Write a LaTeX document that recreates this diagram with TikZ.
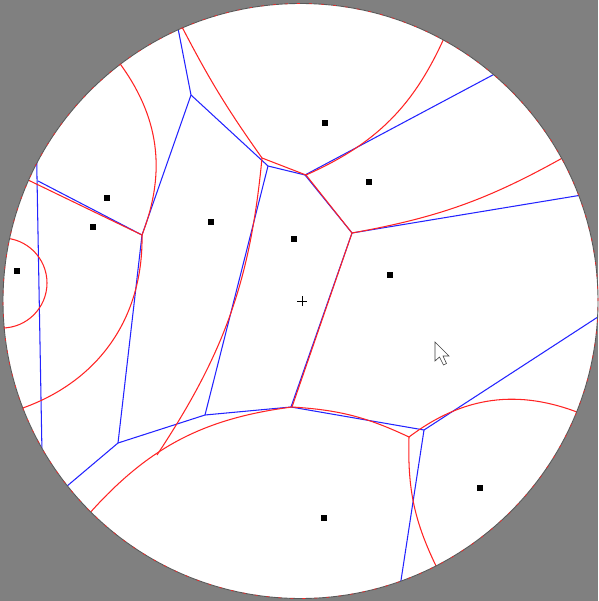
\documentclass[tikz,border=0pt]{standalone}
\definecolor{bg}{RGB}{128,128,128}
\definecolor{vred}{RGB}{255,35,35}
\definecolor{vblue}{RGB}{35,35,255}
\begin{document}
\begin{tikzpicture}[x=1pt,y=-1pt,
  redl/.style={vred, line width=1.05pt, line join=round},
  bluel/.style={vblue, line width=1.05pt, line join=round},
  site/.style={fill=black, minimum size=6pt, inner sep=0pt, draw=none}]
\fill[bg] (0,0) rectangle (598,601);
\useasboundingbox (0,0) rectangle (598,601);
\coordinate (O) at (300.5,301);
\fill[white] (O) circle (297.5pt);

\begin{scope}
\clip (O) circle (297.5pt);
% blue Voronoi vertices
\coordinate (b1) at (191,95);
\coordinate (b2) at (142,235);
\coordinate (b3) at (268,166);
\coordinate (b4) at (305,175);
\coordinate (b5) at (352,233);
\coordinate (b6) at (38,181);
\coordinate (b7) at (118,443);
\coordinate (b8) at (205,415);
\coordinate (b9) at (291,407);
\coordinate (b10) at (424,430);
% blue free ends (on / beyond the boundary)
\coordinate (e1) at (176,18);
\coordinate (e2) at (504,69);
\coordinate (e3) at (36.5,150);
\coordinate (e4) at (42.3,470);
\coordinate (e5) at (60,492);
\coordinate (e6) at (604,313);
\coordinate (e7) at (398,600);
\coordinate (e8) at (600,192);

\draw[bluel] (b1) -- (e1);
\draw[bluel] (b1) -- (b2);
\draw[bluel] (b1) -- (b3);
\draw[bluel] (b3) -- (b4);
\draw[bluel] (b4) -- (e2);
\draw[bluel] (b4) -- (b5);
\draw[bluel] (b3) -- (b8);
\draw[bluel] (e3) -- (e4);
\draw[bluel] (b6) -- (b2);
\draw[bluel] (b2) -- (b7);
\draw[bluel] (b7) -- (e5);
\draw[bluel] (b7) -- (b8);
\draw[bluel] (b8) -- (b9);
\draw[bluel] (b5) -- (b9);
\draw[bluel] (b9) -- (b10);
\draw[bluel] (b10) -- (e6);
\draw[bluel] (b10) -- (e7);
\draw[bluel] (b5) -- (e8);

% red (hyperbolic) Voronoi vertices
\coordinate (r1) at (142,235);
\coordinate (r2) at (262,158);
\coordinate (r3) at (306,175);
\coordinate (r4) at (352,233);
\coordinate (r5) at (292,407);
\coordinate (r6) at (157,455);
\coordinate (r7) at (409,437);
% red free ends
\coordinate (f1) at (118,61);
\coordinate (f2) at (26,179);
\coordinate (f3) at (20,409);
\coordinate (f4) at (181,25);
\coordinate (f5) at (445,36);
\coordinate (f6) at (566,156);
\coordinate (f7) at (88,515);
\coordinate (f8) at (582,414);
\coordinate (f9) at (438,570);

\draw[redl] (f1) to[bend left=29] (r1);
\draw[redl] (f2) -- (r1);
\draw[redl] (r1) to[bend left=36] (f3);
\draw[redl] (f4) to[bend right=4] (r2);
\draw[redl] (r2) -- (r3);
\draw[redl] (r3) to[bend right=21] (f5);
\draw[redl] (r3) -- (r4);
\draw[redl] (r4) to[bend right=9.5] (f6);
\draw[redl] (r2) to[bend left=14] (r6);
\draw[redl] (f7) to[bend left=20.5] (r5);
\draw[redl] (r5) to[bend left=10.8] (r7);
\draw[redl] (r4) -- (r5);
\draw[redl] (r7) to[bend left=29.5] (f8);
\draw[redl] (r7) to[bend right=14] (f9);
\draw[redl] (2,283) circle (45pt);
\end{scope}

% boundary of the disk
\draw[black!65, line width=0.9pt] (O) circle (297.5pt);
\draw[vred, line width=0.6pt, dash pattern=on 3pt off 9pt] (O) circle (297.5pt);

% sites
\node[site] (s1) at (325,123) {};
\node[site] (s2) at (369,182) {};
\node[site] (s3) at (107,198) {};
\node[site] (s4) at (93,227) {};
\node[site] (s5) at (211,222) {};
\node[site] (s6) at (294,239) {};
\node[site] (s7) at (17,271) {};
\node[site] (s8) at (390,275) {};
\node[site] (s9) at (480,488) {};
\node[site] (s10) at (324,518) {};

% centre mark
\coordinate (c) at (302,301);
\draw[black, line width=0.7pt] ([xshift=-5pt]c) -- ([xshift=5pt]c) ([yshift=-5pt]c) -- ([yshift=5pt]c);

% mouse pointer
\draw[fill=white, draw=black!75, line width=0.6pt, line join=miter]
  (435,342) -- ++(0,19) -- ++(4.5,-4) -- ++(4,8) -- ++(3,-1.5) -- ++(-3.5,-7.5) -- ++(6,0) -- cycle;
\end{tikzpicture}
\end{document}
